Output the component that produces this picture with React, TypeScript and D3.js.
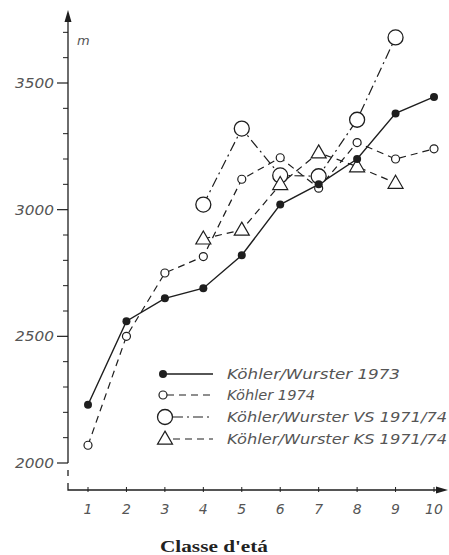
import React from "react";
import * as d3 from "d3";

const classes = [1, 2, 3, 4, 5, 6, 7, 8, 9, 10];
const kw1973 = [2230, 2560, 2650, 2690, 2820, 3020, 3100, 3200, 3380, 3445];
const k1974 = [2070, 2500, 2750, 2815, 3120, 3205, 3085, 3265, 3200, 3240];
const vsClasses = [4, 5, 6, 7, 8, 9];
const vs = [3020, 3320, 3135, 3132, 3355, 3680];
const ksClasses = [4, 5, 6, 7, 8, 9];
const ks = [2885, 2920, 3100, 3225, 3170, 3105];
const yMajor = [2000, 2500, 3000, 3500];
const yMinor = [2100, 2200, 2300, 2400, 2600, 2700, 2800, 2900, 3100, 3200, 3300, 3400, 3600, 3700];
const legendLabels = [
  "Köhler/Wurster 1973",
  "Köhler 1974",
  "Köhler/Wurster VS 1971/74",
  "Köhler/Wurster KS 1971/74",
];
const legendWidths = [173, 88, 220, 220];

const INK = "#1e1e1e";
const TXT = "#555";
const AXF = "'DejaVu Sans', 'Liberation Sans', sans-serif";

export default function App() {
  const x = d3.scaleLinear().domain([1, 10]).range([88, 434]);
  const y = d3.scaleLinear().domain([2000, 3500]).range([463, 83]);
  const line = d3
    .line<[number, number]>()
    .x((d) => x(d[0]))
    .y((d) => y(d[1]));

  const s1 = classes.map((c, i) => [c, kw1973[i]] as [number, number]);
  const s2 = classes.map((c, i) => [c, k1974[i]] as [number, number]);
  const s3 = vsClasses.map((c, i) => [c, vs[i]] as [number, number]);
  const s4 = ksClasses.map((c, i) => [c, ks[i]] as [number, number]);

  const axX = 68;
  const axY = 490;

  const tri = (cx: number, cy: number, s = 15) => {
    const h = s * 0.87;
    return `M${cx},${cy - h * 0.6} L${cx + s / 2},${cy + h * 0.4} L${cx - s / 2},${cy + h * 0.4} Z`;
  };

  const legendY = [374, 395, 417, 439];

  return (
    <svg
      width={449}
      height={555}
      style={{ position: "absolute", left: 0, top: 0, background: "#fff" }}
    >
      <rect width={449} height={555} fill="#fff" />
      {/* Y axis */}
      <line x1={axX} y1={16} x2={axX} y2={y(2000)} stroke={INK} strokeWidth={1.3} />
      <line x1={axX} y1={470} x2={axX} y2={476} stroke={INK} strokeWidth={1.3} />
      <path d={`M${axX},483 L${axX},${axY} L440,${axY}`} fill="none" stroke={INK} strokeWidth={1.3} />
      <path d={`M${axX},10 L${axX - 3.5},22 L${axX + 3.5},22 Z`} fill={INK} />
      <path d={`M448,${axY} L436,${axY - 3.5} L436,${axY + 3.5} Z`} fill={INK} />
      {yMajor.map((v) => (
        <g key={v}>
          <line x1={57} x2={axX} y1={y(v)} y2={y(v)} stroke={INK} strokeWidth={1.2} />
          <text
            x={54}
            y={y(v) + 5}
            textAnchor="end"
            fontFamily={AXF}
            fontStyle="italic"
            fontSize={14}
            fill={TXT}
            textLength={39}
            lengthAdjust="spacingAndGlyphs"
          >
            {v}
          </text>
        </g>
      ))}
      {yMinor.map((v) => (
        <line key={v} x1={63} x2={axX} y1={y(v)} y2={y(v)} stroke={INK} strokeWidth={1} />
      ))}
      <text x={77} y={45} fontFamily={AXF} fontStyle="italic" fontSize={13} fill={TXT}>
        m
      </text>
      {/* X axis ticks */}
      {classes.map((c) => (
        <g key={c}>
          <line x1={x(c)} x2={x(c)} y1={axY - 3} y2={axY + 2} stroke={INK} strokeWidth={1} />
          <text
            x={x(c)}
            y={514}
            textAnchor="middle"
            fontFamily={AXF}
            fontStyle="italic"
            fontSize={14}
            fill={TXT}
          >
            {c}
          </text>
        </g>
      ))}
      <text
        x={160}
        y={552}
        fontFamily="'Liberation Serif', 'DejaVu Serif', serif"
        fontWeight="bold"
        fontSize={17}
        fill="#222"
        textLength={108}
        lengthAdjust="spacingAndGlyphs"
      >
        Classe d'etá
      </text>

      {/* lines */}
      <path d={line(s3) || ""} fill="none" stroke={INK} strokeWidth={1.2} strokeDasharray="10,4,2,4" />
      <path d={line(s4) || ""} fill="none" stroke={INK} strokeWidth={1.2} strokeDasharray="7,5" />
      <path d={line(s2) || ""} fill="none" stroke={INK} strokeWidth={1.2} strokeDasharray="7,5" />
      <path d={line(s1) || ""} fill="none" stroke={INK} strokeWidth={1.4} />

      {/* markers */}
      {s3.map((d, i) => (
        <circle key={"v" + i} cx={x(d[0])} cy={y(d[1])} r={7.5} fill="#fff" stroke={INK} strokeWidth={1.3} />
      ))}
      {s4.map((d, i) => (
        <path key={"k" + i} d={tri(x(d[0]), y(d[1]))} fill="#fff" stroke={INK} strokeWidth={1.2} />
      ))}
      {s2.map((d, i) => (
        <circle key={"o" + i} cx={x(d[0])} cy={y(d[1])} r={4} fill="#fff" stroke={INK} strokeWidth={1.2} />
      ))}
      {s1.map((d, i) => (
        <circle key={"f" + i} cx={x(d[0])} cy={y(d[1])} r={4} fill={INK} />
      ))}

      {/* legend */}
      <line x1={163} x2={213} y1={legendY[0]} y2={legendY[0]} stroke={INK} strokeWidth={1.4} />
      <circle cx={163} cy={legendY[0]} r={4} fill={INK} />
      <line x1={167} x2={213} y1={legendY[1]} y2={legendY[1]} stroke={INK} strokeWidth={1.2} strokeDasharray="7,5" />
      <circle cx={163} cy={legendY[1]} r={4} fill="#fff" stroke={INK} strokeWidth={1.2} />
      <line x1={173} x2={213} y1={legendY[2]} y2={legendY[2]} stroke={INK} strokeWidth={1.2} strokeDasharray="10,4,2,4" />
      <circle cx={165} cy={legendY[2]} r={7.5} fill="#fff" stroke={INK} strokeWidth={1.3} />
      <line x1={173} x2={213} y1={legendY[3]} y2={legendY[3]} stroke={INK} strokeWidth={1.2} strokeDasharray="7,5" />
      <path d={tri(165, legendY[3])} fill="#fff" stroke={INK} strokeWidth={1.2} />
      {legendLabels.map((t, i) => (
        <text
          key={t}
          x={227}
          y={legendY[i] + 5}
          fontFamily={AXF}
          fontStyle="italic"
          fontSize={14}
          fill={TXT}
          textLength={legendWidths[i]}
          lengthAdjust="spacingAndGlyphs"
        >
          {t}
        </text>
      ))}
    </svg>
  );
}
